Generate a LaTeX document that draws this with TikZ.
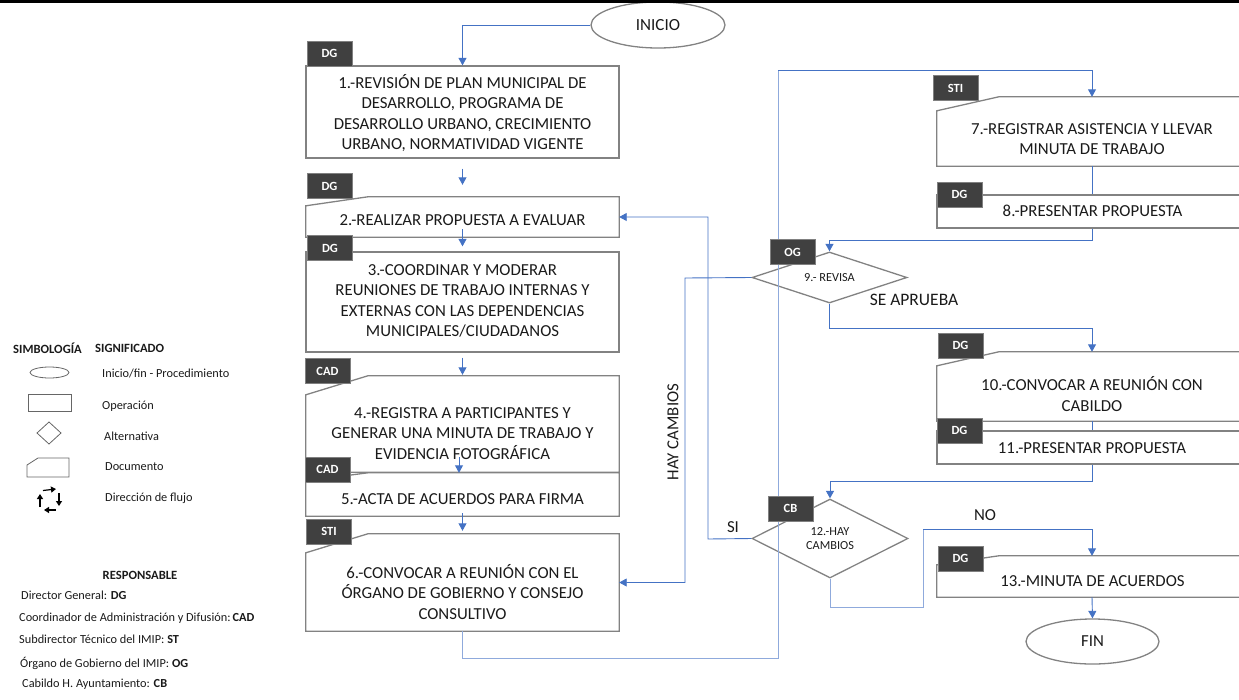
\documentclass[tikz,border=0pt]{standalone}
\usepackage{fontspec}
\setmainfont{Carlito}
\usetikzlibrary{shapes.geometric,arrows.meta}

\definecolor{flowblue}{HTML}{4472C4}
\definecolor{flowlight}{HTML}{8FAADC}
\definecolor{edgegray}{HTML}{828282}
\definecolor{tagfill}{HTML}{404040}
\definecolor{inktext}{HTML}{1A1A1A}

% outline of a "document" box: top-left corner cut by a slanted edge
\newcommand\docoutline[2]{%
  \draw[boxline] ([yshift=-#2]#1.north west) -- ([xshift=62pt]#1.north west)
    -- (#1.north east) -- (#1.south east) -- (#1.south west) -- cycle;}

\begin{document}
\begin{tikzpicture}[x=1pt,y=-1pt,
  font=\fontsize{16.8}{20.5}\selectfont,
  every node/.style={text=inktext},
  boxline/.style={draw=edgegray,line width=1.3pt},
  opbox/.style={boxline,minimum width=313pt,inner sep=0pt},
  docbox/.style={draw=none,minimum width=313pt,inner sep=0pt},
  rbox/.style={boxline,minimum width=310pt,inner sep=0pt},
  rdoc/.style={draw=none,minimum width=310pt,inner sep=0pt},
  txt/.style={align=center,inner sep=0pt},
  term/.style={ellipse,boxline,inner sep=0pt},
  decision/.style={diamond,aspect=2,boxline,inner sep=0pt,align=center,
    font=\fontsize{12.3}{14}\selectfont},
  tag/.style={fill=tagfill,draw=gray,line width=0.4pt,text=white,
    font=\fontsize{12.5}{13}\selectfont\bfseries,
    minimum width=45pt,minimum height=25pt,inner sep=0pt},
  flow/.style={draw=flowblue,line width=0.9pt},
  flowl/.style={draw=flowlight,line width=0.9pt},
  tip/.style={-{Triangle[length=7.5pt,width=8pt]}},
  lbl/.style={inner sep=0pt},
  legtxt/.style={anchor=west,inner sep=0pt,font=\fontsize{12.3}{14}\selectfont},
  leghead/.style={inner sep=0pt,font=\fontsize{12.6}{14}\selectfont\bfseries},
  legshape/.style={draw=gray!80!black,line width=0.8pt}
]
\useasboundingbox (0,0) rectangle (1239,699);
\clip (0,0) rectangle (1239,699);

% ---------- terminals ----------
\node[term,minimum width=134pt,minimum height=46pt] (ini) at (658,25) {\fontsize{17}{20}\selectfont INICIO};
\node[term,minimum width=133pt,minimum height=45pt] (fin) at (1092.5,641.5) {FIN};

% ---------- left column ----------
\node[opbox,minimum height=92pt] (b1) at (462.5,112) {};
\node[docbox,minimum height=40pt] (b2) at (462.5,217) {};
\node[opbox,minimum height=100pt] (b3) at (462.5,302) {};
\node[docbox,minimum height=96pt] (b4) at (462.5,424) {};
\node[docbox,minimum height=43pt] (b5) at (462.5,494.5) {};
\node[docbox,minimum height=97pt] (b6) at (462.5,582.5) {};
\docoutline{b2}{9pt}
\docoutline{b4}{19pt}
\docoutline{b5}{8pt}
\docoutline{b6}{19pt}

\node[txt] (t1) at (462.5,113) {1.-REVISIÓN DE PLAN MUNICIPAL DE\\DESARROLLO, PROGRAMA DE\\DESARROLLO URBANO, CRECIMIENTO\\URBANO, NORMATIVIDAD VIGENTE};
\node[txt] (t2) at (462.5,220) {2.-REALIZAR PROPUESTA A EVALUAR};
\node[txt] (t3) at (462.5,301) {3.-COORDINAR Y MODERAR\\REUNIONES DE TRABAJO INTERNAS Y\\EXTERNAS CON LAS DEPENDENCIAS\\MUNICIPALES/CIUDADANOS};
\node[txt] (t4) at (462.5,433.5) {4.-REGISTRA A PARTICIPANTES Y\\GENERAR UNA MINUTA DE TRABAJO Y\\EVIDENCIA FOTOGRÁFICA};
\node[txt] (t5) at (462.5,499) {5.-ACTA DE ACUERDOS PARA FIRMA};
\node[txt] (t6) at (462.5,592) {6.-CONVOCAR A REUNIÓN CON EL\\ÓRGANO DE GOBIERNO Y CONSEJO\\CONSULTIVO};

% ---------- right column ----------
\node[rdoc,minimum height=69pt] (b7) at (1092,131.5) {};
\node[rbox,minimum height=33pt] (b8) at (1092,211.5) {};
\node[rdoc,minimum height=69pt] (b10) at (1092,386.5) {};
\node[rbox,minimum height=33pt] (b11) at (1092,447.5) {};
\node[rdoc,minimum height=41pt] (b13) at (1092,576.5) {};
\docoutline{b7}{14pt}
\docoutline{b10}{14pt}
\docoutline{b13}{9pt}

\node[txt] (t7) at (1092,139) {7.-REGISTRAR ASISTENCIA Y LLEVAR\\MINUTA DE TRABAJO};
\node[txt] (t8) at (1092.5,211) {8.-PRESENTAR PROPUESTA};
\node[txt] (t10) at (1092,394) {10.-CONVOCAR A REUNIÓN CON\\CABILDO};
\node[txt] (t11) at (1092,448) {11.-PRESENTAR PROPUESTA};
\node[txt] (t13) at (1092.5,581) {13.-MINUTA DE ACUERDOS};

% ---------- decisions ----------
\node[decision,minimum width=155pt,minimum height=51pt] (d9) at (829.5,277.5) {9.- REVISA};
\node[decision,minimum width=156pt,minimum height=79pt] (d12) at (830,538.5) {12.-HAY\\CAMBIOS};

% ---------- connectors ----------
\coordinate (loopB) at (778,658);
\coordinate (loopT) at (778,70);
\coordinate (hayc) at (685,278);
\coordinate (siturn) at (708,539);
\coordinate (noB) at (923,607);
\coordinate (noT) at (923,529);

\draw[flow,tip] (ini.west) -| (b1.north);
\draw[flow,tip] ([yshift=-10pt]b1.south) -- ([yshift=12pt]b2.north);
\draw[flow,tip] ([yshift=8pt]b2.south) -- ([yshift=5pt]b3.north);
\draw[flow,tip] ([yshift=-5pt]b3.south) -- ([yshift=1pt]b4.north);
\draw[flow,tip] ([xshift=-3.5pt,yshift=15pt]b4.south) -- ([xshift=-3.5pt,yshift=0pt]b5.north);
\draw[flow,tip] ([yshift=3pt]b5.south) -- ([yshift=3pt]b6.north);
\draw[flowl] (b6.south) |- (loopB) -- (loopT);
\draw[flow,tip] (loopT) -| (b7.north);
\draw[flow] (b7.south) -- (b8.north);
\draw[flow,tip] (b8.south) -- ++(0,12) -| (d9.north);
\draw[flow,tip] (d9.south) -- ++(0,25) -| (b10.north);
\draw[flow] (b10.south) -- (b11.north);
\draw[flow,tip] (b11.south) -- ++(0,17) -| (d12.north);
\draw[flowl] (d12.south) |- (noB) -- (noT);
\draw[flow,tip] (noT) -| (b13.north);
\draw[flow,tip] (b13.south) -- (fin.north);
\draw[flow,tip] (d9.west) -- (hayc) |- (b6.east);
\draw[flow,tip] (d12.west) -- (siturn) |- (b2.east);

% ---------- branch labels ----------
\node[lbl,font=\fontsize{17.5}{20}\selectfont] (lap) at (914,300) {SE APRUEBA};
\node[lbl] (lno) at (985,515) {NO};
\node[lbl] (lsi) at (733,527) {SI};
\node[lbl,rotate=90] (lhay) at (673,432) {HAY CAMBIOS};

% ---------- role tags ----------
\node[tag] (g1) at (329.5,53.5) {DG};
\node[tag] (g2) at (329.5,186) {DG};
\node[tag] (g3) at (330,248) {DG};
\node[tag] (g4) at (327.5,371) {CAD};
\node[tag] (g5) at (327.5,469.5) {CAD};
\node[tag] (g6) at (329,531.5) {STI};
\node[tag] (g7) at (955.5,88) {STI};
\node[tag] (g8) at (959.5,194.5) {DG};
\node[tag] (g9) at (792.5,252) {OG};
\node[tag] (g10) at (960.5,345.5) {DG};
\node[tag] (g11) at (959.5,430.5) {DG};
\node[tag] (g12) at (790.5,508.5) {CB};
\node[tag] (g13) at (960.5,558.5) {DG};

% ---------- top rule ----------
\fill[black] (0,0) rectangle (1239,2.6);

% ---------- legend ----------
\node[leghead,anchor=west] (hs) at (13,348) {SIMBOLOGÍA};
\node[leghead,anchor=west] (hm) at (95,348) {SIGNIFICADO};

\draw[legshape] (49.5,372.5) ellipse [x radius=19.5pt, y radius=5.5pt];
\draw[legshape] (28,394) rectangle (71,411);
\draw[legshape] (49,422) -- (61,433) -- (49,444) -- (37,433) -- cycle;
\draw[legshape] (27,465) -- (38,458) -- (69,458) -- (69,477) -- (27,477) -- cycle;
% flow-direction icon: four separate arrows turning clockwise
\begin{scope}[line width=1.2pt,-{Triangle[length=5pt,width=6pt]}]
  \draw (43,490.5) -- (56,489);
  \draw (59,493) -- (59,506);
  \draw (55.5,510) -- (44,510);
  \draw (40,507) -- (40,494);
\end{scope}

\node[legtxt] (l1) at (102,373) {Inicio/fin - Procedimiento};
\node[legtxt] (l2) at (102,406) {Operación};
\node[legtxt] (l3) at (104,436) {Alternativa};
\node[legtxt] (l4) at (105,467) {Documento};
\node[legtxt] (l5) at (105,498) {Dirección de flujo};

\node[leghead] (hr) at (140,575) {RESPONSABLE};
\node[legtxt] (r1) at (21,595) {Director General: \textbf{DG}};
\node[legtxt] (r2) at (19,618) {Coordinador de Administración y Difusión:\,\textbf{CAD}};
\node[legtxt] (r3) at (19,639) {Subdirector Técnico del IMIP: \textbf{ST}};
\node[legtxt] (r4) at (20,663) {Órgano de Gobierno del IMIP: \textbf{OG}};
\node[legtxt] (r5) at (22,684) {Cabildo H. Ayuntamiento: \textbf{CB}};
\end{tikzpicture}
\end{document}
